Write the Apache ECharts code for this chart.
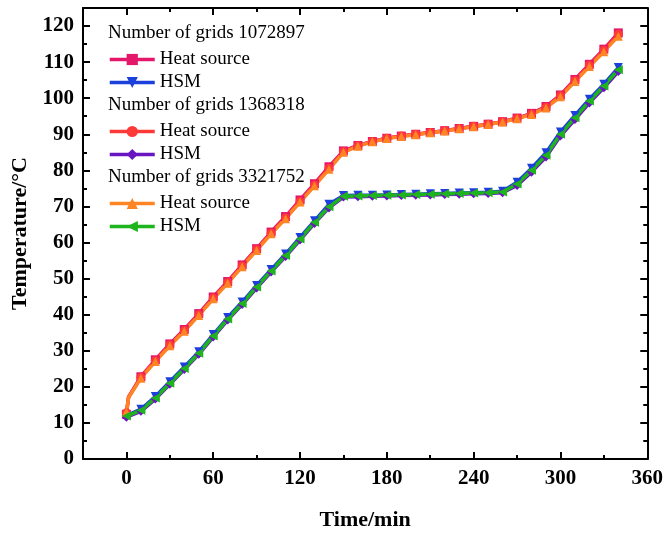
<!DOCTYPE html>
<html>
<head>
<meta charset="utf-8">
<script src="https://cdn.jsdelivr.net/npm/echarts@6/dist/echarts.min.js"></script>
<style>
html,body{margin:0;padding:0;background:#fff;}
#chart{width:666px;height:536px;}
</style>
</head>
<body>
<div id="chart"></div>
<script>
// ---- data ----
const heatTime = [0, 1.5, 10, 20, 30, 40, 50, 60, 70, 80, 90, 100, 110, 120, 130, 140, 150, 160, 170, 180, 190, 200, 210, 220, 230, 240, 250, 260, 270, 280, 290, 300, 310, 320, 330, 340];
const heat1072897 = [12.4, 17.2, 22.8, 27.5, 31.9, 35.9, 40.3, 44.9, 49.2, 53.8, 58.3, 62.9, 67.2, 71.8, 76.3, 81.0, 85.4, 86.9, 88.0, 88.9, 89.5, 90.0, 90.5, 91.0, 91.6, 92.2, 92.8, 93.5, 94.5, 95.8, 97.7, 100.9, 105.2, 109.4, 113.6, 118.1];
const heat1368318 = [12.8, 17.1, 22.6, 27.2, 31.6, 35.6, 40.0, 44.6, 48.9, 53.5, 58.0, 62.6, 66.8, 71.4, 75.9, 80.6, 85.2, 86.8, 88.0, 88.9, 89.5, 90.0, 90.5, 91.0, 91.6, 92.2, 92.8, 93.5, 94.4, 95.6, 97.5, 100.7, 104.9, 109.1, 113.3, 117.7];
const heat3321752 = [13.0, 17.0, 22.4, 27.0, 31.4, 35.4, 39.8, 44.4, 48.7, 53.3, 57.8, 62.4, 66.6, 71.2, 75.7, 80.3, 85.0, 86.7, 87.9, 88.8, 89.4, 89.9, 90.4, 90.9, 91.5, 92.1, 92.7, 93.4, 94.3, 95.5, 97.3, 100.4, 104.6, 108.8, 112.9, 117.2];

const hsmTime = [0, 10, 20, 30, 40, 50, 60, 70, 80, 90, 100, 110, 120, 130, 140, 150, 160, 170, 180, 190, 200, 210, 220, 230, 240, 250, 260, 270, 280, 290, 300, 310, 320, 330, 340];
const hsm1072897 = [12.0, 13.8, 17.3, 21.4, 25.5, 29.7, 34.5, 39.2, 43.5, 48.1, 52.5, 56.8, 61.4, 66.0, 70.6, 73.0, 73.1, 73.1, 73.2, 73.3, 73.4, 73.5, 73.6, 73.7, 73.8, 73.9, 74.2, 76.7, 80.6, 84.9, 90.6, 95.2, 99.7, 103.9, 108.5];
const hsm1368318 = [11.6, 13.2, 16.6, 20.7, 24.8, 29.0, 33.8, 38.5, 42.8, 47.4, 51.8, 56.1, 60.7, 65.3, 69.6, 72.6, 72.7, 72.8, 72.9, 73.0, 73.1, 73.2, 73.3, 73.4, 73.5, 73.6, 73.8, 75.8, 79.5, 83.7, 89.5, 94.1, 98.7, 102.9, 107.4];
const hsm3321752 = [11.9, 13.5, 16.9, 21.0, 25.1, 29.3, 34.1, 38.8, 43.1, 47.7, 52.1, 56.4, 61.0, 65.6, 69.9, 72.8, 72.9, 73.0, 73.1, 73.2, 73.3, 73.4, 73.5, 73.6, 73.7, 73.8, 74.0, 76.2, 80.0, 84.2, 90.0, 94.6, 99.2, 103.4, 107.9];

const xMajorTicks = [0, 60, 120, 180, 240, 300, 360];
const xMinorTicks = [30, 90, 150, 210, 270, 330];
const yMajorTicks = [0, 10, 20, 30, 40, 50, 60, 70, 80, 90, 100, 110, 120];
const yMinorTicks = [5, 15, 25, 35, 45, 55, 65, 75, 85, 95, 105, 115];

const groupTitles = ['Number of grids 1072897', 'Number of grids 1368318', 'Number of grids 3321752'];
const seriesLabels = {hs1: 'Heat source', hsm1: 'HSM', hs2: 'Heat source', hsm2: 'HSM', hs3: 'Heat source', hsm3: 'HSM'};

// ---- chart ----
const FONT = "'Liberation Serif', 'Times New Roman', serif";
const BLACK = '#000';
const chart = echarts.init(document.getElementById('chart'), null, {renderer: 'canvas'});

function mkAxis(kind, pos, ticks, len, showLine, showLabel, extra) {
  const isX = kind === 'x';
  const a = {
    type: 'value',
    position: pos,
    min: isX ? -30 : 0,
    max: isX ? 360 : 125,
    axisLine: {show: showLine, onZero: false, lineStyle: {color: BLACK, width: 2}},
    axisTick: {show: true, inside: true, length: len, customValues: ticks, lineStyle: {color: BLACK, width: 2}},
    axisLabel: showLabel ? {show: true, customValues: ticks, color: BLACK, fontFamily: FONT, fontWeight: 'bold', fontSize: 21, margin: 9}
                         : {show: false},
    splitLine: {show: false},
    minorTick: {show: false}
  };
  return Object.assign(a, extra || {});
}

const nameStyle = {color: BLACK, fontFamily: FONT, fontWeight: 'bold', fontSize: 22};

function pts(t, v, skipSecond) {
  return t.map((x, i) => {
    if (skipSecond && i === 1) return {value: [x, v[i]], symbol: 'none'};
    return [x, v[i]];
  });
}

function line(name, color, symbol, rotate, data) {
  return {
    name: name, type: 'line', xAxisIndex: 0, yAxisIndex: 0,
    data: data, symbol: symbol, symbolRotate: rotate, symbolSize: 9,
    showAllSymbol: true,
    lineStyle: {color: color, width: 3.5},
    itemStyle: {color: color},
    emphasis: {disabled: true},
    animation: false
  };
}

const legendBase = {
  orient: 'vertical', left: 108, itemWidth: 45, itemHeight: 14, itemGap: 4, padding: 0,
  selectedMode: false,
  formatter: n => seriesLabels[n],
  lineStyle: {width: 3.5},
  textStyle: {color: BLACK, fontFamily: FONT, fontSize: 19}
};

const option = {
  backgroundColor: '#fff',
  animation: false,
  grid: {left: 83, right: 18, top: 8, bottom: 75},
  xAxis: [
    mkAxis('x', 'bottom', xMajorTicks, 7, true, true, {name: 'Time/min', nameLocation: 'middle', nameGap: 50, nameTextStyle: nameStyle}),
    mkAxis('x', 'bottom', xMinorTicks, 4, false, false),
    mkAxis('x', 'top', xMajorTicks, 7, true, false),
    mkAxis('x', 'top', xMinorTicks, 4, false, false)
  ],
  yAxis: [
    mkAxis('y', 'left', yMajorTicks, 7, true, true, {name: 'Temperature/°C', nameLocation: 'middle', nameGap: 47, nameRotate: 90, nameTextStyle: nameStyle}),
    mkAxis('y', 'left', yMinorTicks, 4, false, false),
    mkAxis('y', 'right', yMajorTicks, 7, true, false),
    mkAxis('y', 'right', yMinorTicks, 4, false, false)
  ],
  legend: [
    Object.assign({}, legendBase, {top: 50, data: ['hs1', 'hsm1']}),
    Object.assign({}, legendBase, {top: 122, data: ['hs2', 'hsm2']}),
    Object.assign({}, legendBase, {top: 194, data: ['hs3', 'hsm3']})
  ],
  graphic: groupTitles.map((t, i) => ({
    type: 'text', left: 108, top: 24 + i * 72,
    style: {text: t, fill: BLACK, font: '19px ' + FONT}
  })),
  series: [
    line('hs1', '#E5176B', 'rect', 0, pts(heatTime, heat1072897, true)),
    line('hsm1', '#1B40DB', 'triangle', 180, pts(hsmTime, hsm1072897)),
    line('hs2', '#FF3838', 'circle', 0, pts(heatTime, heat1368318, true)),
    line('hsm2', '#6A16C0', 'diamond', 0, pts(hsmTime, hsm1368318)),
    line('hs3', '#FF8424', 'triangle', 0, pts(heatTime, heat3321752, true)),
    line('hsm3', '#1DB41D', 'triangle', 90, pts(hsmTime, hsm3321752))
  ]
};
chart.setOption(option);
</script>
</body>
</html>
